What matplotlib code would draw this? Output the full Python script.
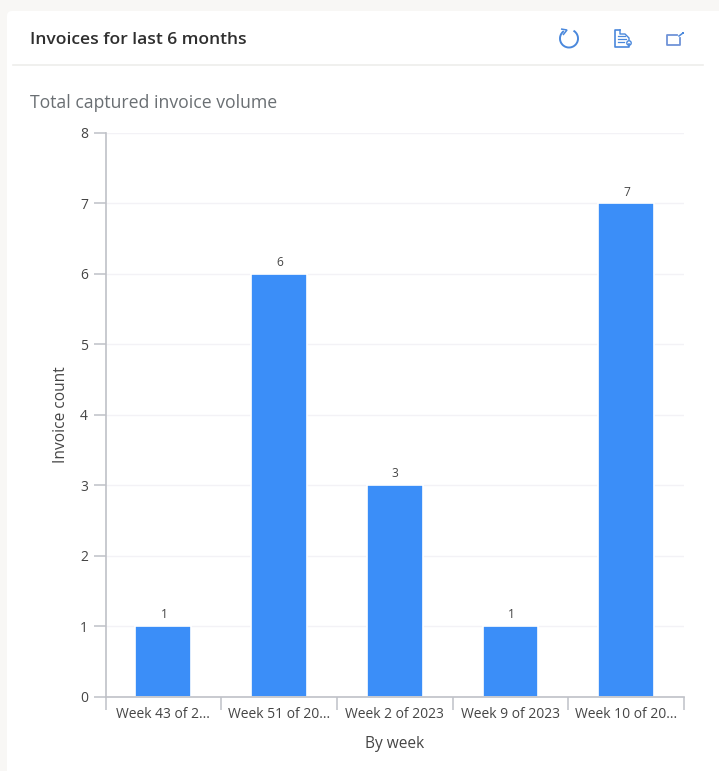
import matplotlib
matplotlib.use("Agg")
import matplotlib.pyplot as plt
from matplotlib.patches import FancyBboxPatch, Arc, Polygon, Rectangle

plt.rcParams['font.family'] = ['Open Sans', 'Noto Sans', 'DejaVu Sans']

categories = ["Week 43 of 2...", "Week 51 of 20...", "Week 2 of 2023", "Week 9 of 2023", "Week 10 of 20..."]
invoice_counts = [1, 6, 3, 1, 7]
y_ticks = [0, 1, 2, 3, 4, 5, 6, 7, 8]

W, H = 719, 771
BAR = "#3b8ef8"
AXIS = "#bfc1c7"
GRID = "#f3f2f6"
TEXT = "#454545"
ICON = "#4a88dc"

fig = plt.figure(figsize=(W / 100, H / 100), dpi=100, facecolor="#f8f7f5")

# Card and header, laid out in pixel coordinates
bg = fig.add_axes([0, 0, 1, 1])
bg.set_xlim(0, W)
bg.set_ylim(H, 0)
bg.axis("off")
bg.add_patch(FancyBboxPatch((7, 11), W + 30, H + 30, boxstyle="round,pad=0,rounding_size=5",
                            fc="white", ec="none"))
bg.plot([13, 703], [65, 65], color="#eeedeb", lw=1.2)
bg.text(30, 38, "Invoices for last 6 months", fontsize=12.6, fontweight="semibold",
        color="#2f2f2f", va="center_baseline", ha="left")
bg.text(30, 101, "Total captured invoice volume", fontsize=12.7, color="#6a6f73",
        va="center_baseline", ha="left")

# Refresh icon
bg.add_patch(Arc((569, 38.5), 18, 18, theta1=-60, theta2=235, color=ICON, lw=1.4))
bg.add_patch(Polygon([[561, 29], [567, 30], [563, 35]], closed=False, fill=False, ec=ICON, lw=1.1))

# Document icon
bg.plot([620, 615, 615, 629, 629], [30, 30, 47, 47, 44], color=ICON, lw=1.2)
bg.plot([620, 620, 625, 629, 629], [30, 34, 34, 38, 40], color=ICON, lw=1.0)
for yy, x1 in zip((36, 39, 42), (625, 626, 624)):
    bg.plot([617.5, x1], [yy, yy], color=ICON, lw=0.9)
bg.add_patch(plt.Circle((629, 43), 2.2, fc="white", ec=ICON, lw=1.0))

# Open-in-new icon
bg.plot([677, 667, 667, 680, 680], [35, 35, 45, 45, 38], color="#6f93d8", lw=1.3)
bg.plot([679, 683], [36, 33], color=ICON, lw=1.1)
bg.add_patch(Rectangle((681.5, 31.5), 2.5, 2.5, fc=ICON, ec="none"))

# Bar chart
left, right, top, bottom = 105.5, 684, 133, 696.5
ax = fig.add_axes([left / W, 1 - bottom / H, (right - left) / W, (bottom - top) / H])
ax.patch.set_alpha(0)
positions = list(range(len(categories)))
bars = ax.bar(positions, invoice_counts, width=0.482, color=BAR, edgecolor="white",
              linewidth=1.2, zorder=3)
ax.set_xlim(-0.5, len(categories) - 0.5)
ax.set_ylim(y_ticks[0], y_ticks[-1])

ax.set_yticks(y_ticks)
ax.yaxis.grid(True, color=GRID, lw=1)
ax.set_axisbelow(True)

# Category ticks sit on the band edges, labels at the band centres
ax.set_xticks([p - 0.5 for p in positions] + [positions[-1] + 0.5])
ax.set_xticklabels([])
ax.set_xticks(positions, minor=True)
ax.set_xticklabels(categories, minor=True, fontsize=10, color=TEXT)
ax.tick_params(axis="x", which="major", length=9, width=1.1, color=AXIS)
ax.tick_params(axis="x", which="minor", length=0, pad=7.5)
ax.tick_params(axis="y", length=8.6, width=1.1, color=AXIS, labelsize=10, labelcolor=TEXT, pad=4)

for side in ("top", "right"):
    ax.spines[side].set_visible(False)
for side in ("left", "bottom"):
    ax.spines[side].set_color(AXIS)
    ax.spines[side].set_linewidth(1.2)
    ax.spines[side].set_zorder(4)

for rect, value in zip(bars, invoice_counts):
    ax.annotate(str(value), (rect.get_x() + rect.get_width() / 2 + 0.005, value), xytext=(0, 3.5),
                textcoords="offset points", ha="center", va="bottom", fontsize=8.6, color=TEXT)

ax.set_ylabel("Invoice count", fontsize=11.2, color=TEXT)
ax.set_xlabel("By week", fontsize=11.2, color=TEXT)
ax.yaxis.set_label_coords((61.5 - left) / (right - left), 0.5)
ax.xaxis.set_label_coords(0.5, -(744 - bottom) / (bottom - top))
ax.xaxis.label.set_va("center")
ax.yaxis.label.set_va("center")

fig.savefig("out.png", dpi=100, facecolor=fig.get_facecolor())
